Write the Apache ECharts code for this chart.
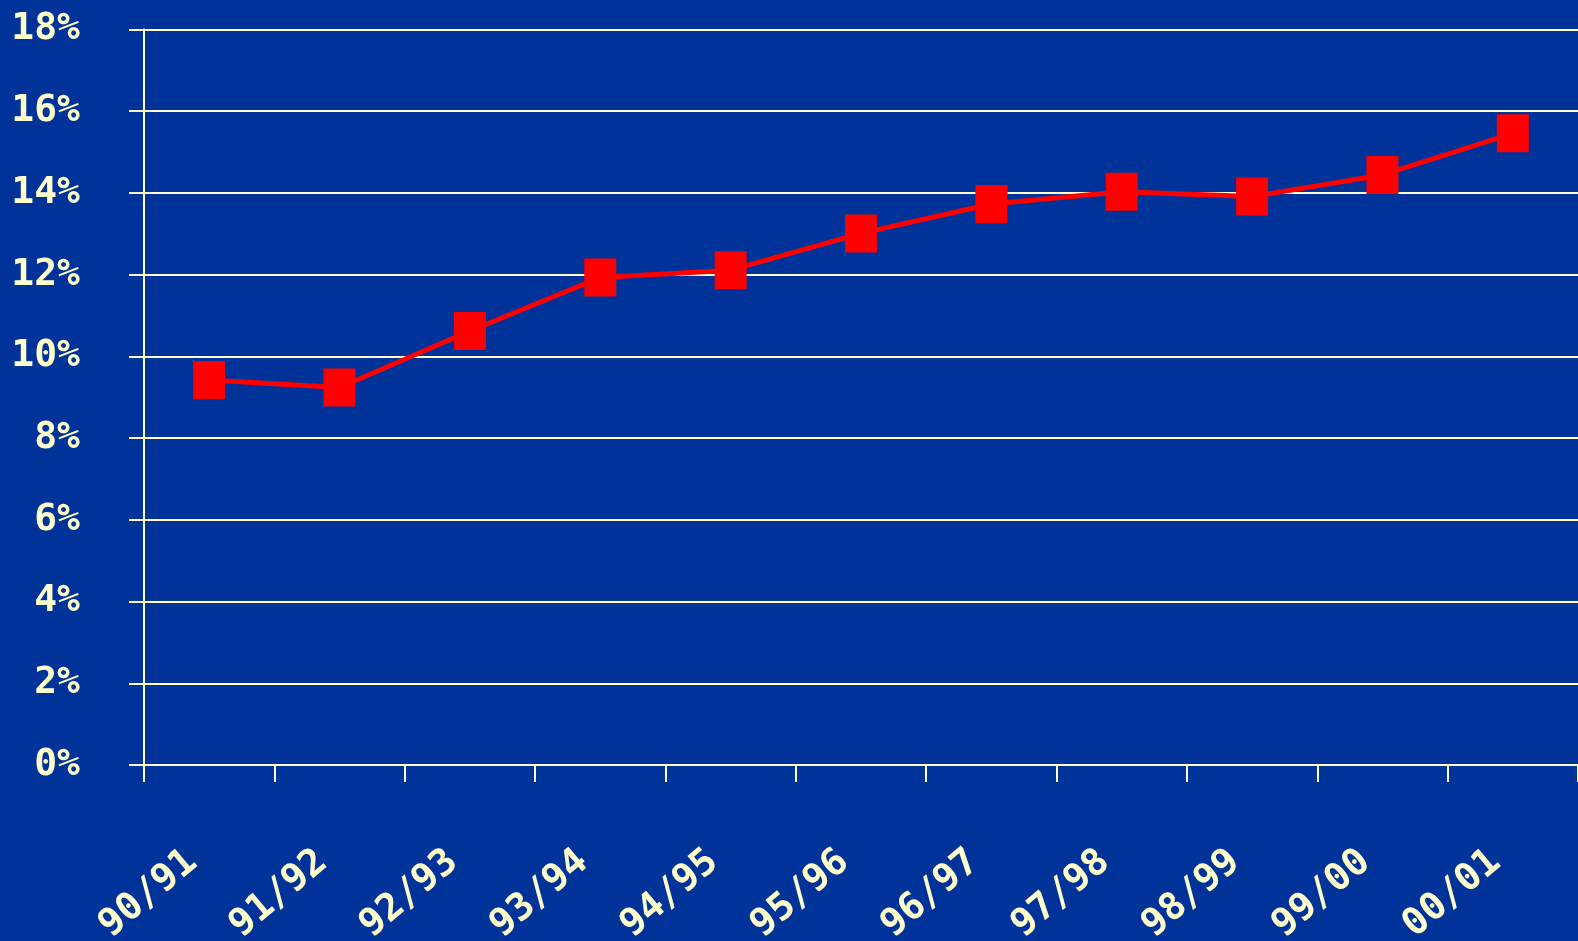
<!DOCTYPE html>
<html>
<head>
<meta charset="utf-8">
<script src="https://cdn.jsdelivr.net/npm/echarts@6/dist/echarts.min.js"></script>
<style>
  html, body { margin: 0; padding: 0; background: #003399; }
  #chart { width: 1578px; height: 941px; }
</style>
</head>
<body>
<div id="chart"></div>
<script>
// Academic years on the category axis
const years = ['90/91', '91/92', '92/93', '93/94', '94/95', '95/96', '96/97', '97/98', '98/99', '99/00', '00/01'];
// Share per year, in percent
const shares = [9.42, 9.24, 10.62, 11.93, 12.11, 13.01, 13.73, 14.03, 13.91, 14.44, 15.46];
// Value axis range and step, in percent
const yMin = 0;
const yMax = 18;
const yStep = 2;

const cream = '#FFFFCC';
const labelFont = {
  color: cream,
  fontFamily: '"DejaVu Sans Mono", "Liberation Mono", monospace',
  fontWeight: 'bold',
  fontSize: 38
};

const chart = echarts.init(document.getElementById('chart'));
chart.setOption({
  backgroundColor: '#003399',
  animation: false,
  grid: {
    left: 144, right: 0, top: 29.5, bottom: 176,
    containLabel: false,
    outerBoundsMode: 'none'
  },
  xAxis: {
    type: 'category',
    data: years,
    boundaryGap: true,
    axisLine: { lineStyle: { color: cream, width: 2 } },
    axisTick: { show: true, length: 17, lineStyle: { color: cream, width: 2 } },
    axisLabel: Object.assign({}, labelFont, {
      interval: 0,
      rotate: 40,
      margin: 78,
      padding: [0, 22, 0, 0]
    }),
    splitLine: { show: false }
  },
  yAxis: {
    type: 'value',
    min: yMin,
    max: yMax,
    interval: yStep,
    axisLine: { show: true, lineStyle: { color: cream, width: 2 } },
    axisTick: { show: true, length: 15, lineStyle: { color: cream, width: 2 } },
    axisLabel: Object.assign({}, labelFont, {
      margin: 64,
      formatter: v => v + '%'
    }),
    splitLine: { show: true, lineStyle: { color: cream, width: 2 } }
  },
  series: [{
    type: 'line',
    data: shares,
    symbol: 'rect',
    symbolSize: [32, 38],
    showAllSymbol: true,
    lineStyle: { color: '#FF0000', width: 5 },
    itemStyle: { color: '#FF0000' },
    z: 5
  }]
});
</script>
</body>
</html>
